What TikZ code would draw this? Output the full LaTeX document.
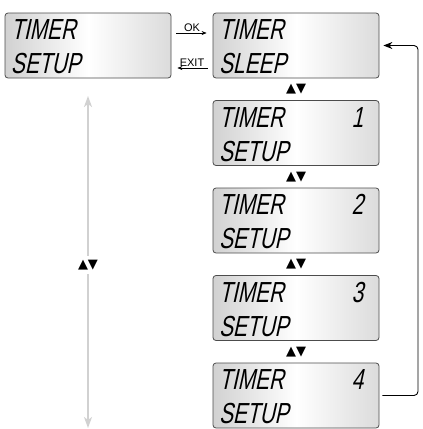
\documentclass[tikz,border=0pt]{standalone}
\usepackage{fontspec}
\setsansfont{Liberation Sans}
\newfontfamily\lcdfont[FakeSlant=0.22,FakeStretch=0.72]{Liberation Sans}
\newfontfamily\symfont{DejaVu Sans}
\usetikzlibrary{arrows.meta}

\tikzset{
  lcd/.style={draw=black!70, line width=0.8pt, rounded corners=3pt,
    left color=black!18, right color=black!14, middle color=white,
    minimum width=166pt, minimum height=65pt, inner sep=0pt,
    align=left, text width=154pt,
    execute at begin node=\rule{0pt}{23pt},
    font=\lcdfont\fontsize{29}{34}\selectfont},
  lcdnum/.style={anchor=base east, inner sep=0pt,
    font=\lcdfont\fontsize{29}{34}\selectfont},
  updown/.style={inner sep=1pt, font=\symfont\fontsize{13}{13}\selectfont},
  keyarrow/.style={-{Stealth[length=5pt,width=4pt]}, line width=0.6pt,
    shorten <=5pt, shorten >=6pt},
  keylabel/.style={font=\sffamily\fontsize{11}{11}\selectfont, inner sep=1.5pt},
  backarrow/.style={-{Stealth[length=9pt,width=7pt]}, line width=0.9pt,
    rounded corners=4pt},
  grayarrow/.style={-{Stealth[length=11pt,width=8pt,inset=3pt]}, black!18,
    line width=1.6pt}
}

\begin{document}
\begin{tikzpicture}[x=1pt, y=-1pt]
\useasboundingbox (0,0) rectangle (423,429);

% Pantallas
\node[lcd] (setup) at (88,45.5) {TIMER\\SETUP};
\node[lcd] (sleep) at (296,45.5) {TIMER\\SLEEP};
\node[lcd] (t1) at (296,133) {TIMER\\SETUP};
\node[lcd] (t2) at (296,220.5) {TIMER\\SETUP};
\node[lcd] (t3) at (296,308) {TIMER\\SETUP};
\node[lcd] (t4) at (296,395.5) {TIMER\\SETUP};

% Numeros de temporizador
\node[lcdnum] (n1) at ([xshift=-16pt,yshift=-27pt]t1.north east) {1};
\node[lcdnum] (n2) at ([xshift=-16pt,yshift=-27pt]t2.north east) {2};
\node[lcdnum] (n3) at ([xshift=-16pt,yshift=-27pt]t3.north east) {3};
\node[lcdnum] (n4) at ([xshift=-16pt,yshift=-27pt]t4.north east) {4};

% Teclas OK / EXIT
\draw[keyarrow] ([yshift=12.5pt]setup.east) -- node[keylabel, above] (ok) {OK}
  ([yshift=12.5pt]sleep.west);
\draw[keyarrow] ([yshift=-22.5pt]sleep.west) -- node[keylabel, above] (exit) {EXIT}
  ([yshift=-22.5pt]setup.east);

% Flechas arriba/abajo
\node[updown] (ud1) at (296,89.5) {▲▼};
\node[updown] (ud2) at (296,177) {▲▼};
\node[updown] (ud3) at (296,264.5) {▲▼};
\node[updown] (ud4) at (296,352) {▲▼};

% Vuelta al inicio
\coordinate (turn) at (418,395.5);
\draw[backarrow, shorten <=3pt, shorten >=4pt] (t4.east) -- (turn) |- (sleep.east);

% Flecha gris izquierda
\node[updown] (udL) at (88,265) {▲▼};
\coordinate (upL) at (88,96);
\coordinate (downL) at (88,428);
\draw[grayarrow, shorten <=3pt] (udL.north) -- (upL);
\draw[grayarrow, shorten <=3pt] (udL.south) -- (downL);

\end{tikzpicture}
\end{document}
